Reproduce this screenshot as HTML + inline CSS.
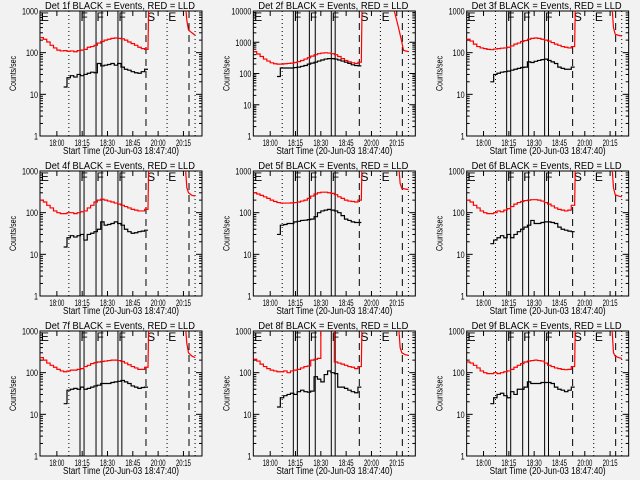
<!DOCTYPE html>
<html><head><meta charset="utf-8"><style>
html,body{margin:0;padding:0;background:#f2f2f2;}
svg{display:block;font-family:"Liberation Sans",sans-serif;}
</style></head><body>
<svg id="chart" width="640" height="480" viewBox="0 0 640 480"></svg>
<script>
// ---- data ----
const panelTitles = ["Det 1f","Det 2f","Det 3f","Det 4f","Det 5f","Det 6f","Det 7f","Det 8f","Det 9f"];
const yMaxes = [1000,10000,1000,1000,1000,1000,1000,1000,1000];
const redStartT = -10, blackStartT = 4, stepT = 2;
const red1 = [230,210,180,150,130,115,110,112,108,110,105,112,115,120,135,140,150,170,185,200,210,220,225,220,215,200,180,165,150,135,125,120];
const red2 = [500,420,350,290,250,220,205,200,200,205,210,215,225,240,260,290,320,360,400,430,450,460,450,430,400,350,300,260,235,220,210,230];
const red3 = [210,190,160,140,130,125,120,118,122,125,128,130,135,145,160,170,185,195,210,220,225,220,210,200,190,175,160,150,140,135,130,140];
const red4 = [200,180,150,130,110,100,95,95,100,100,95,100,105,110,130,150,180,200,210,200,190,180,170,160,150,140,130,120,115,110,110,120];
const red5 = [300,280,260,240,220,200,185,175,170,170,170,172,175,180,190,200,220,250,280,300,310,310,300,290,270,240,220,200,190,185,180,200];
const red6 = [200,180,150,130,110,100,95,95,100,110,105,115,125,140,160,175,185,195,200,205,205,200,190,175,160,145,130,120,115,110,115,150];
const red7 = [230,200,170,150,135,120,110,105,110,115,115,120,125,140,150,165,175,180,185,190,195,200,200,195,185,170,155,140,130,120,120,135];
const red8 = [210,190,160,140,125,115,110,105,105,110,100,110,115,120,130,140,145,200,210,220,3000,3000,3000,3000,180,170,160,150,140,135,125,140];
const red9 = [180,170,150,130,110,100,95,95,100,95,100,105,110,120,135,150,165,180,190,195,200,195,190,170,150,140,130,125,120,118,120,140];
const black1 = [15,25,28,26,30,28,30,32,34,33,55,48,50,52,55,50,55,45,40,38,35,33,32,35,40];
const black2 = [80,150,150,150,150,155,160,170,180,200,215,230,250,270,290,300,300,290,270,250,230,210,190,180,175];
const black3 = [20,30,32,34,35,36,38,40,42,44,45,60,58,62,65,68,70,65,60,55,45,42,40,40,45];
const black4 = [15,25,28,26,28,30,22,30,32,35,40,60,50,52,55,60,55,50,40,35,32,33,35,36,38];
const black5 = [30,50,52,55,55,60,62,65,66,68,70,80,100,110,115,120,115,110,100,85,70,65,60,58,58];
const black6 = [18,22,25,28,25,30,25,30,35,40,45,50,65,55,55,58,60,60,58,55,45,40,38,36,35];
const black7 = [18,38,40,42,40,45,40,42,45,48,50,55,55,55,58,60,62,65,60,55,48,45,42,44,45];
const black8 = [15,25,28,30,32,30,35,38,35,34,36,80,70,60,90,110,100,95,45,45,42,38,35,33,45];
const black9 = [18,25,30,32,28,25,35,30,40,40,45,60,55,55,55,58,58,58,55,45,40,38,35,38,45];
const tailT = [75.5,77,78,80,82];
const tailT2 = [72,74,76,78,79,82];
const tail1 = [3000,600,350,300,260];
const tail2 = [20000,8000,3000,1000,550,500];
const tail3 = [3000,400,280,260,250];
const tail4 = [3000,400,300,260,250];
const tail5 = [3000,500,380,370,360];
const tail6 = [3000,400,270,250,240];
const tail7 = [3000,500,300,250,230];
const tail8 = [3000,400,300,270,260];
const tail9 = [3000,300,250,230,220];
const xTickTimes = [0,15,30,45,60,75];
const xTickLabels = ["18:00","18:15","18:30","18:45","20:00","20:15"];
const dottedT = [7.1,65.3,81.9];
const solidT = [13.7,16.1,23.2,26.7,36.2,38.5];
const dashedT = [52.8,78.3];
const markerT = [-9.5,14,23.5,36.5,53.5,66];
const markerLbl = ["E","F","F","F","S","E"];
const reds=[red1,red2,red3,red4,red5,red6,red7,red8,red9];
const blacks=[black1,black2,black3,black4,black5,black6,black7,black8,black9];
const tails=[tail1,tail2,tail3,tail4,tail5,tail6,tail7,tail8,tail9];

const NS="http://www.w3.org/2000/svg";
const svg=document.getElementById('chart');
function mk(tag,attrs,parent){const e=document.createElementNS(NS,tag);for(const k in attrs)e.setAttribute(k,attrs[k]);(parent||svg).appendChild(e);return e;}

for(let p=0;p<9;p++){
  const ox=(p%3)*213.33, oy=Math.floor(p/3)*160;
  const L=ox+40,R=ox+202,T=oy+11,B=oy+136;
  const yMax=yMaxes[p];
  const xs=t=>L+(t+10)*(R-L)/96;
  const ys=v=>B-(Math.log10(v)/Math.log10(yMax))*(B-T);
  const g=mk('g',{});
  
  
  const cid='clip'+p;
  const cp=mk('clipPath',{id:cid},g);mk('rect',{x:L,y:T,width:R-L,height:B-T},cp);
  const tt=mk('text',{x:ox+45,y:oy+9,'font-size':'10',textLength:150,lengthAdjust:'spacingAndGlyphs'},g);
  tt.textContent=panelTitles[p]+" BLACK = Events, RED = LLD";
  
  
  const fr=mk('rect',{x:L,y:T,width:R-L,height:B-T,fill:'none',stroke:'#000','stroke-width':1},g);
  
  
  const dec=Math.round(Math.log10(yMax));
  for(let d=0;d<=dec;d++){
    const v=Math.pow(10,d),y=ys(v);
    mk('line',{x1:L,x2:L+6,y1:y,y2:y,stroke:'#000'},g);
    mk('line',{x1:R,x2:R-6,y1:y,y2:y,stroke:'#000'},g);
    const s=String(v);
    const lb=mk('text',{x:L-2-4*s.length,y:y+3.5,'font-size':'9',textLength:4*s.length,lengthAdjust:'spacingAndGlyphs'},g);
    lb.textContent=s;
    
    
    if(d<dec)for(let m=2;m<10;m++){const ym=ys(v*m);
      mk('line',{x1:L,x2:L+3,y1:ym,y2:ym,stroke:'#000'},g);
      mk('line',{x1:R,x2:R-3,y1:ym,y2:ym,stroke:'#000'},g);}
  }
  const yl=mk('text',{x:-17,y:0,'font-size':'9',textLength:35,lengthAdjust:'spacingAndGlyphs',transform:`translate(${ox+16},${oy+74}) rotate(-90)`},g);
  yl.textContent="Counts/sec";
  
  
  xTickTimes.forEach((t,i)=>{const x=xs(t);
    mk('line',{x1:x,x2:x,y1:B,y2:B-5,stroke:'#000'},g);
    mk('line',{x1:x,x2:x,y1:T,y2:T+5,stroke:'#000'},g);
    const lb=mk('text',{x:x-7.5,y:B+10,'font-size':'9',textLength:15,lengthAdjust:'spacingAndGlyphs'},g);
    lb.textContent=xTickLabels[i];
    
    });
  const xl=mk('text',{x:ox+63,y:oy+154,'font-size':'10',textLength:116,lengthAdjust:'spacingAndGlyphs'},g);
  xl.textContent="Start Time (20-Jun-03 18:47:40)";
  
  
  dottedT.forEach(t=>{const l=mk('line',{x1:xs(t),x2:xs(t),y1:T,y2:B,stroke:'#000','stroke-dasharray':'1,3'},g);
    });
  solidT.forEach(t=>{const l=mk('line',{x1:xs(t),x2:xs(t),y1:T,y2:B,stroke:'#000'},g);
    });
  dashedT.forEach(t=>{const l=mk('line',{x1:xs(t),x2:xs(t),y1:T,y2:B,stroke:'#000','stroke-dasharray':'7,5'},g);
    });
  markerT.forEach((t,i)=>{const m=mk('text',{x:xs(t),y:T+10,'font-size':'12'},g);
    m.textContent=markerLbl[i];
    });
  const step=(arr,t0)=>{let pts=[];arr.forEach((v,i)=>{const a=t0+i*stepT;pts.push(xs(a)+','+ys(v));pts.push(xs(a+stepT)+','+ys(v));});return pts;};
  const rp=step(reds[p],redStartT);
  rp.push(xs(redStartT+reds[p].length*stepT+0.5)+','+ys(yMax*3));
  const rl=mk('polyline',{points:rp.join(' '),fill:'none',stroke:'#ff0000','stroke-width':1.2,'clip-path':`url(#${cid})`},g);
  
  const tT=p===1?tailT2:tailT;
  const tp=tails[p].map((v,i)=>xs(tT[i])+','+ys(v));
  const tl=mk('polyline',{points:tp.join(' '),fill:'none',stroke:'#ff0000','stroke-width':1.2,'clip-path':`url(#${cid})`},g);
  
  const bp=step(blacks[p],blackStartT);
  const bl=mk('polyline',{points:bp.join(' '),fill:'none',stroke:'#000','stroke-width':1.2,'clip-path':`url(#${cid})`},g);
  
}
</script>
</body></html>
